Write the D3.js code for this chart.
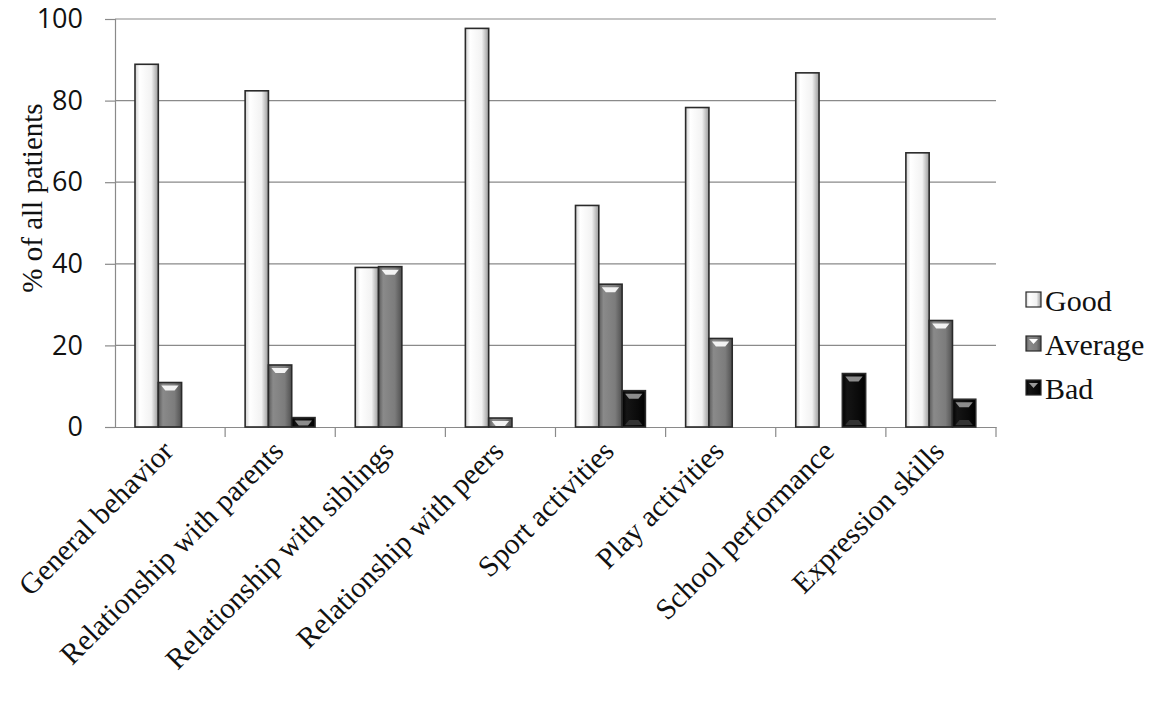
<!DOCTYPE html>
<html><head><meta charset="utf-8">
<script src="https://cdnjs.cloudflare.com/ajax/libs/d3/7.8.5/d3.min.js"></script>
<style>body{margin:0;background:#fff} .serif{font-family:"Liberation Serif","Times New Roman",serif} .sans{font-family:"Open Sans","Liberation Sans",sans-serif}</style>
</head><body>
<svg id="c" width="1154" height="707"></svg>
<script>
const categories = ["General behavior","Relationship with parents","Relationship with siblings","Relationship with peers","Sport activities","Play activities","School performance","Expression skills"];
const seriesNames = ["Good","Average","Bad"];
const good    = [88.9, 82.4, 39.1, 97.7, 54.3, 78.3, 86.8, 67.2];
const average = [10.9, 15.2, 39.3, 2.2, 35.0, 21.7, 0, 26.1];
const bad     = [0, 2.3, 0, 0, 8.9, 0, 13.1, 6.8];
const yTicks  = [0,20,40,60,80,100];

const values = [good, average, bad];
const svg = d3.select("#c");
const m = {left:115, right:996, top:19, bottom:427};
const x = d3.scaleBand().domain(categories).range([m.left, m.right]).paddingInner(0).paddingOuter(0);
const y = d3.scaleLinear().domain([0,100]).range([m.bottom, m.top]);

const defs = svg.append("defs");
const fills = {Good:["#cfcfcf","#ffffff","#f2f2f2","#9a9a9a"], Average:["#5a5a5a","#8a8a8a","#7c7c7c","#505050"], Bad:["#000","#151515","#0a0a0a","#000"]};
seriesNames.forEach(s=>{
  const g = defs.append("linearGradient").attr("id","g"+s).attr("x1",0).attr("x2",1).attr("y1",0).attr("y2",0);
  const c = fills[s];
  g.append("stop").attr("offset","0").attr("stop-color",c[0]);
  g.append("stop").attr("offset","0.2").attr("stop-color",c[1]);
  g.append("stop").attr("offset","0.7").attr("stop-color",c[2]);
  g.append("stop").attr("offset","1").attr("stop-color",c[3]);
});

// gridlines
svg.append("g").selectAll("line").data(yTicks.filter(d=>d>0)).join("line")
  .attr("x1",m.left).attr("x2",m.right).attr("y1",d=>y(d)).attr("y2",d=>y(d))
  .attr("stroke","#8a8a8a").attr("stroke-width",1.2);

// y axis
const ya = svg.append("g").attr("transform",`translate(${m.left},0)`)
  .call(d3.axisLeft(y).tickValues(yTicks).tickSize(10).tickPadding(22));
ya.select(".domain").attr("stroke","#8a8a8a").attr("stroke-width",1.2);
ya.selectAll(".tick line").attr("stroke","#8a8a8a").attr("stroke-width",1.2);
ya.selectAll("text").attr("class","sans").attr("font-family",null).attr("font-size",27).attr("fill","#111");

// x axis
const xa = svg.append("g").attr("transform",`translate(0,${m.bottom})`)
  .call(d3.axisBottom(x).tickSize(0).tickFormat(""));
xa.select(".domain").attr("stroke","#8a8a8a").attr("stroke-width",1.2);
svg.append("g").selectAll("line").data(categories).join("line")
  .attr("x1",d=>x(d)+x.bandwidth()).attr("x2",d=>x(d)+x.bandwidth())
  .attr("y1",m.bottom).attr("y2",m.bottom+10).attr("stroke","#8a8a8a").attr("stroke-width",1.2);

// bars
const bw = 23.3;
const offset = 20;
const groups = svg.append("g").selectAll("g").data(categories).join("g")
  .attr("transform",d=>`translate(${x(d)+offset},0)`);
groups.each(function(cat, ci){
  const g = d3.select(this);
  seriesNames.forEach((s, si)=>{
    const v = values[si][ci];
    if(!v) return;
    const x0 = si*bw, top = y(v), h = y(0)-y(v);
    g.append("rect").attr("x",x0).attr("y",top).attr("width",bw).attr("height",h)
      .attr("fill",`url(#g${s})`).attr("stroke","#2a2a2a").attr("stroke-width",1.6);
    if(s!=="Good" && h>8){
      const hl = s==="Average" ? "#ffffff" : "#9a9a9a";
      g.append("path").attr("d",`M${x0+3},${top+3} L${x0+bw-3},${top+3} L${x0+bw-7},${top+8} L${x0+7},${top+8} Z`)
        .attr("fill",hl).attr("opacity",0.9);
      if(s==="Bad" && h>20){
        g.append("path").attr("d",`M${x0+7},${y(0)-7} L${x0+bw-7},${y(0)-7} L${x0+bw-3},${y(0)-2} L${x0+3},${y(0)-2} Z`)
          .attr("fill","#333");
      }
    } else if(s!=="Good"){
      g.append("line").attr("x1",x0+5).attr("x2",x0+bw-5).attr("y1",top+h/2).attr("y2",top+h/2).attr("stroke","#888").attr("stroke-width",1.5);
    }
  });
});

// x labels
svg.append("g").selectAll("text").data(categories).join("text")
  .attr("class","serif")
  .attr("transform",d=>`translate(${x(d)+x.bandwidth()/2+5},${m.bottom+26}) rotate(-45)`)
  .attr("text-anchor","end")
  .attr("font-size",29.5).attr("fill","#111")
  .text(d=>d);

// y title
svg.append("text").attr("class","serif").attr("transform",`translate(42,198) rotate(-90)`).attr("text-anchor","middle")
  .attr("font-size",29).attr("fill","#111")
  .text("% of all patients");

// legend
const lg = svg.append("g").attr("transform","translate(1026,300)");
const li = lg.selectAll("g").data(seriesNames).join("g").attr("transform",(d,i)=>`translate(0,${i*44})`);
li.append("rect").attr("x",0).attr("y",-8).attr("width",15).attr("height",15)
  .attr("fill",d=>`url(#g${d})`).attr("stroke","#2a2a2a").attr("stroke-width",1.2);
li.filter(d=>d!=="Good").append("path").attr("d","M3,-5 L12,-5 L7.5,0 Z").attr("fill",d=>d==="Average"?"#fff":"#999");
li.append("text").attr("class","serif").attr("x",19).attr("y",0).attr("dy","0.35em")
  .attr("font-size",30).attr("fill","#111")
  .text(d=>d);
</script>
</body></html>
